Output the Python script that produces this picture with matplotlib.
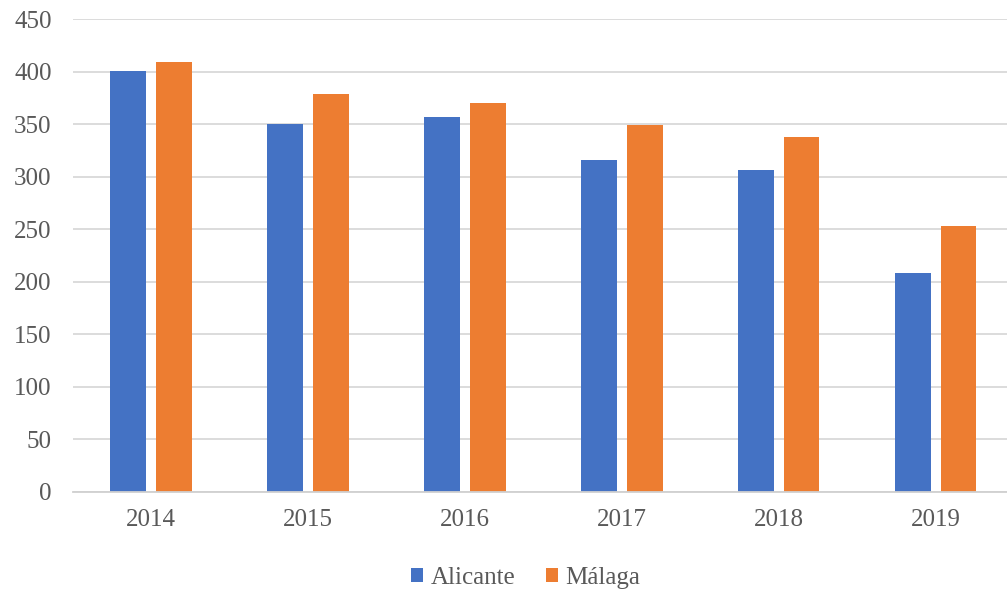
import matplotlib
matplotlib.use("Agg")
import matplotlib.pyplot as plt
import numpy as np

years = ["2014", "2015", "2016", "2017", "2018", "2019"]
alicante = [401, 350, 357, 316, 306, 208]
malaga = [409, 379, 370, 349, 338, 253]
yticks = [0, 50, 100, 150, 200, 250, 300, 350, 400, 450]

plt.rcParams['font.family'] = ['Liberation Serif', 'DejaVu Serif']

fig = plt.figure(figsize=(10.07, 5.96), dpi=100)
ax = fig.add_axes([0.072, 0.1745, 0.935, 0.7936])

x = np.arange(len(years))
w = 0.228
off = 0.146
ax.bar(x - off, alicante, w, color="#4472C4", label="Alicante", zorder=3)
ax.bar(x + off, malaga, w, color="#ED7D31", label="Málaga", zorder=3)

ax.set_xlim(-0.5, len(years) - 0.5)
ax.set_ylim(0, 450)
ax.set_yticks(yticks)
ax.set_xticks(x)
ax.set_xticklabels(years)
ax.yaxis.grid(True, color="#d9d9d9", linewidth=1.3, zorder=0)
for s in ["top", "right", "left"]:
    ax.spines[s].set_visible(False)
ax.spines["bottom"].set_color("#d0d0d0")
ax.spines["bottom"].set_linewidth(1.3)
ax.spines["bottom"].set_zorder(4)
ax.tick_params(axis="both", length=0, labelsize=18, colors="#595959")
ax.tick_params(axis="y", pad=15)
ax.tick_params(axis="x", pad=12)

fig.legend(loc="center", bbox_to_anchor=(0.522, 0.03), ncol=2, frameon=False,
           fontsize=18, handlelength=0.5, handleheight=0.5, handletextpad=0.3,
           columnspacing=1.2, labelcolor="#595959")

fig.savefig("out.png", dpi=100)
